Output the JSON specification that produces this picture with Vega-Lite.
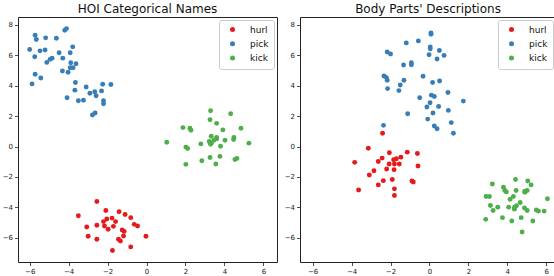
{
  "$schema": "https://vega.github.io/schema/vega-lite/v6.json",
  "padding": {"left": 0, "top": 2, "right": 0, "bottom": 0},
  "background": "white",
  "datasets": {
    "hoi": [
      {"c":"hurl","x":-2.55,"y":-3.61},{"c":"hurl","x":-3.50,"y":-4.54},{"c":"hurl","x":-2.09,"y":-4.20},{"c":"hurl","x":-1.41,"y":-4.28},
      {"c":"hurl","x":-1.10,"y":-4.46},{"c":"hurl","x":-0.81,"y":-4.67},{"c":"hurl","x":-1.77,"y":-4.70},{"c":"hurl","x":-2.04,"y":-4.76},
      {"c":"hurl","x":-2.21,"y":-4.93},{"c":"hurl","x":-1.59,"y":-4.93},{"c":"hurl","x":-3.07,"y":-5.28},{"c":"hurl","x":-2.55,"y":-5.17},
      {"c":"hurl","x":-2.16,"y":-5.22},{"c":"hurl","x":-1.70,"y":-5.24},{"c":"hurl","x":-1.97,"y":-5.43},{"c":"hurl","x":-1.25,"y":-5.48},
      {"c":"hurl","x":-1.15,"y":-5.57},{"c":"hurl","x":-0.63,"y":-5.11},{"c":"hurl","x":-0.46,"y":-5.22},{"c":"hurl","x":-3.00,"y":-5.89},
      {"c":"hurl","x":-1.18,"y":-5.87},{"c":"hurl","x":-0.03,"y":-5.89},{"c":"hurl","x":-2.55,"y":-6.09},{"c":"hurl","x":-1.44,"y":-6.09},
      {"c":"hurl","x":-1.34,"y":-6.20},{"c":"hurl","x":-0.81,"y":-6.59},{"c":"hurl","x":-1.75,"y":-6.83},
      {"c":"pick","x":-5.72,"y":7.30},{"c":"pick","x":-5.66,"y":7.02},{"c":"pick","x":-5.18,"y":7.13},{"c":"pick","x":-4.63,"y":7.11},
      {"c":"pick","x":-4.20,"y":7.63},{"c":"pick","x":-4.11,"y":7.74},{"c":"pick","x":-6.00,"y":6.37},{"c":"pick","x":-5.47,"y":6.28},
      {"c":"pick","x":-5.21,"y":6.33},{"c":"pick","x":-5.74,"y":5.89},{"c":"pick","x":-4.49,"y":6.15},{"c":"pick","x":-3.92,"y":6.15},
      {"c":"pick","x":-3.79,"y":6.54},{"c":"pick","x":-4.95,"y":5.72},{"c":"pick","x":-4.85,"y":5.80},{"c":"pick","x":-5.12,"y":5.52},
      {"c":"pick","x":-4.30,"y":5.80},{"c":"pick","x":-3.89,"y":5.50},{"c":"pick","x":-3.62,"y":5.43},{"c":"pick","x":-3.92,"y":5.17},
      {"c":"pick","x":-3.77,"y":5.17},{"c":"pick","x":-4.32,"y":4.96},{"c":"pick","x":-4.03,"y":4.87},{"c":"pick","x":-5.72,"y":4.74},
      {"c":"pick","x":-5.43,"y":4.50},{"c":"pick","x":-5.88,"y":4.11},{"c":"pick","x":-3.65,"y":4.20},{"c":"pick","x":-3.10,"y":3.91},
      {"c":"pick","x":-3.68,"y":3.70},{"c":"pick","x":-4.08,"y":3.20},{"c":"pick","x":-3.50,"y":3.00},{"c":"pick","x":-3.24,"y":3.04},
      {"c":"pick","x":-2.91,"y":3.50},{"c":"pick","x":-2.66,"y":3.59},{"c":"pick","x":-2.59,"y":3.33},{"c":"pick","x":-2.31,"y":3.65},
      {"c":"pick","x":-2.25,"y":4.09},{"c":"pick","x":-1.83,"y":4.07},{"c":"pick","x":-2.21,"y":3.00},{"c":"pick","x":-2.21,"y":2.80},
      {"c":"pick","x":-2.78,"y":2.07},{"c":"pick","x":-2.64,"y":2.20},
      {"c":"kick","x":3.29,"y":2.35},{"c":"kick","x":4.32,"y":2.15},{"c":"kick","x":3.26,"y":1.76},{"c":"kick","x":3.60,"y":1.52},
      {"c":"kick","x":1.87,"y":1.24},{"c":"kick","x":2.23,"y":1.20},{"c":"kick","x":2.28,"y":1.07},{"c":"kick","x":3.92,"y":1.09},
      {"c":"kick","x":4.85,"y":1.20},{"c":"kick","x":3.32,"y":0.67},{"c":"kick","x":3.60,"y":0.59},{"c":"kick","x":4.49,"y":0.59},
      {"c":"kick","x":1.04,"y":0.28},{"c":"kick","x":2.02,"y":-0.04},{"c":"kick","x":2.11,"y":-0.13},{"c":"kick","x":2.79,"y":0.17},
      {"c":"kick","x":3.22,"y":0.33},{"c":"kick","x":3.32,"y":0.22},{"c":"kick","x":3.46,"y":0.41},{"c":"kick","x":3.60,"y":0.50},
      {"c":"kick","x":3.29,"y":0.15},{"c":"kick","x":3.80,"y":0.02},{"c":"kick","x":4.03,"y":0.41},{"c":"kick","x":4.47,"y":0.46},
      {"c":"kick","x":5.26,"y":0.22},{"c":"kick","x":2.02,"y":-1.17},{"c":"kick","x":2.84,"y":-0.93},{"c":"kick","x":3.26,"y":-0.72},
      {"c":"kick","x":3.56,"y":-1.15},{"c":"kick","x":3.77,"y":-0.65},{"c":"kick","x":4.54,"y":-0.85},{"c":"kick","x":4.64,"y":-0.78}
    ],
    "body": [
      {"c":"hurl","x":-2.41,"y":0.87},{"c":"hurl","x":-3.14,"y":-0.11},{"c":"hurl","x":-2.06,"y":-0.41},{"c":"hurl","x":-1.14,"y":-0.37},
      {"c":"hurl","x":-0.62,"y":-0.46},{"c":"hurl","x":-2.43,"y":-0.76},{"c":"hurl","x":-1.47,"y":-0.70},{"c":"hurl","x":-3.84,"y":-1.04},
      {"c":"hurl","x":-2.63,"y":-0.98},{"c":"hurl","x":-1.84,"y":-0.87},{"c":"hurl","x":-1.70,"y":-0.80},{"c":"hurl","x":-2.07,"y":-1.15},
      {"c":"hurl","x":-1.80,"y":-1.15},{"c":"hurl","x":-1.55,"y":-1.15},{"c":"hurl","x":-0.59,"y":-1.28},{"c":"hurl","x":-2.85,"y":-1.59},
      {"c":"hurl","x":-2.20,"y":-1.48},{"c":"hurl","x":-1.82,"y":-1.52},{"c":"hurl","x":-3.09,"y":-1.87},{"c":"hurl","x":-2.37,"y":-2.24},
      {"c":"hurl","x":-1.91,"y":-2.17},{"c":"hurl","x":-0.90,"y":-2.26},{"c":"hurl","x":-0.83,"y":-2.33},{"c":"hurl","x":-2.63,"y":-2.52},
      {"c":"hurl","x":-3.64,"y":-2.85},{"c":"hurl","x":-1.80,"y":-2.78},{"c":"hurl","x":-1.80,"y":-3.22},
      {"c":"pick","x":0.08,"y":7.46},{"c":"pick","x":0.08,"y":7.37},{"c":"pick","x":-0.57,"y":6.93},{"c":"pick","x":-1.19,"y":6.80},
      {"c":"pick","x":0.04,"y":6.54},{"c":"pick","x":0.04,"y":6.41},{"c":"pick","x":0.51,"y":6.30},{"c":"pick","x":-2.17,"y":6.20},
      {"c":"pick","x":-2.00,"y":6.07},{"c":"pick","x":-0.02,"y":6.02},{"c":"pick","x":0.75,"y":5.98},{"c":"pick","x":0.39,"y":5.74},
      {"c":"pick","x":-0.93,"y":5.50},{"c":"pick","x":-0.93,"y":5.37},{"c":"pick","x":-1.33,"y":5.35},{"c":"pick","x":-2.34,"y":4.63},
      {"c":"pick","x":-2.22,"y":4.54},{"c":"pick","x":-2.17,"y":4.35},{"c":"pick","x":-1.31,"y":4.35},{"c":"pick","x":-0.33,"y":4.61},
      {"c":"pick","x":0.16,"y":4.20},{"c":"pick","x":0.52,"y":4.30},{"c":"pick","x":-1.50,"y":4.04},{"c":"pick","x":-2.15,"y":3.80},
      {"c":"pick","x":-1.57,"y":3.67},{"c":"pick","x":0.95,"y":3.54},{"c":"pick","x":-0.50,"y":3.20},{"c":"pick","x":0.10,"y":3.37},
      {"c":"pick","x":0.25,"y":3.28},{"c":"pick","x":1.74,"y":2.98},{"c":"pick","x":0.03,"y":2.87},{"c":"pick","x":-0.13,"y":2.59},
      {"c":"pick","x":0.47,"y":2.63},{"c":"pick","x":0.97,"y":2.37},{"c":"pick","x":-1.12,"y":2.15},{"c":"pick","x":0.18,"y":2.20},
      {"c":"pick","x":-0.09,"y":1.80},{"c":"pick","x":1.12,"y":1.57},{"c":"pick","x":-2.36,"y":1.39},{"c":"pick","x":0.25,"y":1.35},
      {"c":"pick","x":0.39,"y":1.17},{"c":"pick","x":1.23,"y":0.87},
      {"c":"kick","x":4.42,"y":-2.17},{"c":"kick","x":5.05,"y":-2.26},{"c":"kick","x":3.23,"y":-2.46},{"c":"kick","x":5.22,"y":-2.52},
      {"c":"kick","x":3.80,"y":-2.67},{"c":"kick","x":3.87,"y":-2.89},{"c":"kick","x":3.95,"y":-2.98},{"c":"kick","x":4.45,"y":-2.89},
      {"c":"kick","x":4.90,"y":-2.93},{"c":"kick","x":5.02,"y":-2.89},{"c":"kick","x":4.90,"y":-3.00},{"c":"kick","x":2.91,"y":-3.28},
      {"c":"kick","x":3.08,"y":-3.28},{"c":"kick","x":4.31,"y":-3.28},{"c":"kick","x":6.06,"y":-3.43},{"c":"kick","x":4.14,"y":-3.46},
      {"c":"kick","x":4.66,"y":-3.67},{"c":"kick","x":3.13,"y":-3.87},{"c":"kick","x":3.51,"y":-3.98},{"c":"kick","x":4.07,"y":-3.98},
      {"c":"kick","x":4.37,"y":-3.98},{"c":"kick","x":4.47,"y":-3.89},{"c":"kick","x":4.88,"y":-4.04},{"c":"kick","x":4.36,"y":-4.11},
      {"c":"kick","x":3.27,"y":-4.20},{"c":"kick","x":5.02,"y":-4.20},{"c":"kick","x":5.49,"y":-4.17},{"c":"kick","x":5.60,"y":-4.24},
      {"c":"kick","x":5.89,"y":-4.24},{"c":"kick","x":2.89,"y":-4.78},{"c":"kick","x":3.75,"y":-4.67},{"c":"kick","x":4.71,"y":-4.67},
      {"c":"kick","x":4.23,"y":-4.89},{"c":"kick","x":5.31,"y":-4.89},{"c":"kick","x":4.76,"y":-5.61}
    ]
  },
  "spacing": 4,
  "resolve": {"legend": {"color": "independent"}, "scale": {"x": "independent", "y": "independent"}},
  "hconcat": [
    {
      "title": "HOI Categorical Names",
      "width": 259,
      "height": 245,
      "data": {"name": "hoi"},
      "mark": {"type": "circle", "size": 24, "opacity": 1},
      "encoding": {
        "x": {"field": "x", "type": "quantitative", "scale": {"domain": [-6.6, 6.7], "nice": false, "zero": false},
              "axis": {"values": [-6, -4, -2, 0, 2, 4, 6], "title": null}},
        "y": {"field": "y", "type": "quantitative", "scale": {"domain": [-7.58, 8.5], "nice": false, "zero": false},
              "axis": {"values": [-6, -4, -2, 0, 2, 4, 6, 8], "title": null}},
        "color": {"field": "c", "type": "nominal", "title": null,
                  "scale": {"domain": ["hurl", "pick", "kick"], "range": ["#e41a1c", "#377eb8", "#4daf4a"]},
                  "legend": {"orient": "top-right"}}
      }
    },
    {
      "title": "Body Parts' Descriptions",
      "width": 256,
      "height": 245,
      "data": {"name": "body"},
      "mark": {"type": "circle", "size": 24, "opacity": 1},
      "encoding": {
        "x": {"field": "x", "type": "quantitative", "scale": {"domain": [-6.65, 6.5], "nice": false, "zero": false},
              "axis": {"values": [-6, -4, -2, 0, 2, 4, 6], "title": null}},
        "y": {"field": "y", "type": "quantitative", "scale": {"domain": [-7.58, 8.5], "nice": false, "zero": false},
              "axis": {"values": [-6, -4, -2, 0, 2, 4, 6, 8], "title": null}},
        "color": {"field": "c", "type": "nominal", "title": null,
                  "scale": {"domain": ["hurl", "pick", "kick"], "range": ["#e41a1c", "#377eb8", "#4daf4a"]},
                  "legend": {"orient": "top-right"}}
      }
    }
  ],
  "config": {
    "font": "DejaVu Sans",
    "view": {"stroke": "#222222", "strokeWidth": 1},
    "axis": {
      "grid": false, "domain": false, "tickColor": "#222222", "tickSize": 3.5, "tickWidth": 0.8,
      "labelFont": "DejaVu Sans", "labelFontSize": 7, "labelColor": "#222222", "labelPadding": 2
    },
    "axisX": {"labelPadding": 1.5},
    "axisY": {"minExtent": 17.5, "maxExtent": 17.5},
    "title": {"font": "DejaVu Sans", "fontSize": 12, "fontWeight": "normal", "color": "#111111", "offset": 1, "anchor": "middle"},
    "legend": {
      "offset": 3, "padding": 5, "fillColor": "white", "strokeColor": "#cccccc", "cornerRadius": 2.5,
      "symbolType": "circle", "symbolSize": 25, "symbolOffset": 4, "labelOffset": 13, "labelFontSize": 9,
      "labelFont": "DejaVu Sans", "labelColor": "#111111", "rowPadding": 4.3
    }
  }
}
